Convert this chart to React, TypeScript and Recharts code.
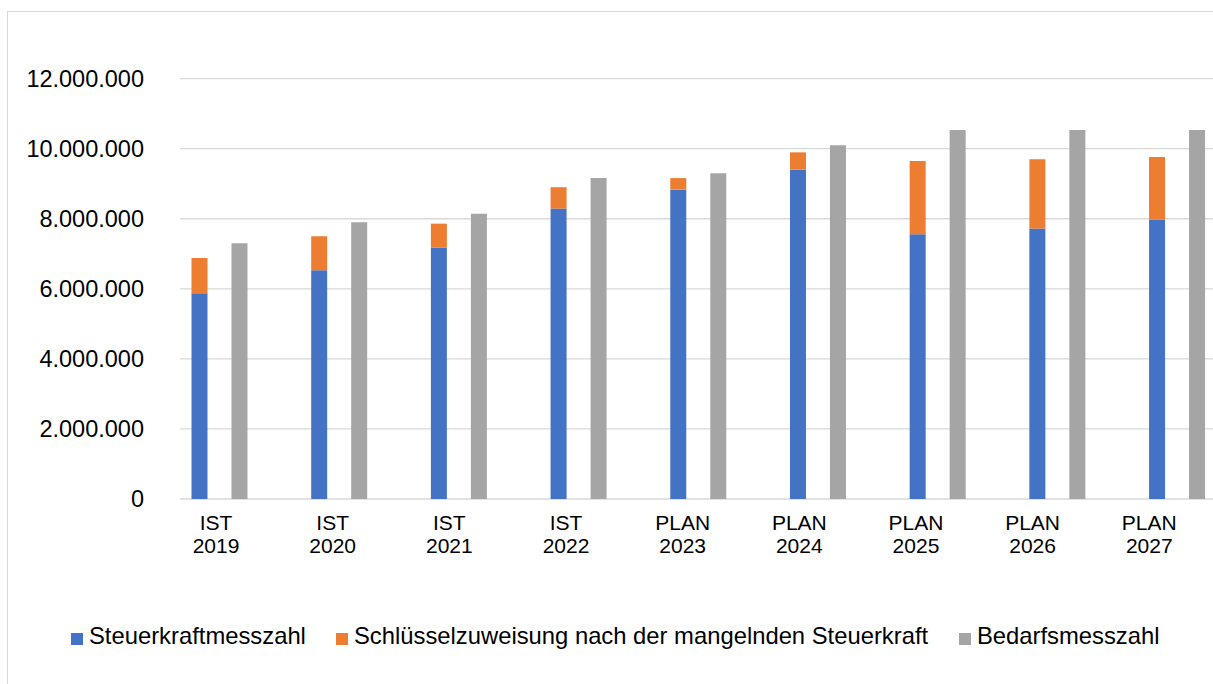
import React from 'react'
import { BarChart, Bar, XAxis, YAxis, CartesianGrid } from 'recharts'

const categories = ['IST 2019', 'IST 2020', 'IST 2021', 'IST 2022', 'PLAN 2023', 'PLAN 2024', 'PLAN 2025', 'PLAN 2026', 'PLAN 2027']
const steuerkraft = [5870000, 6530000, 7180000, 8290000, 8830000, 9400000, 7560000, 7720000, 7970000]
const schluessel = [1010000, 970000, 680000, 610000, 330000, 495000, 2090000, 1975000, 1795000]
const bedarf = [7300000, 7900000, 8140000, 9160000, 9300000, 10100000, 10530000, 10530000, 10530000]
const yTicks = [0, 2000000, 4000000, 6000000, 8000000, 10000000, 12000000]

const SERIES = [
  { key: 'steuerkraft', label: 'Steuerkraftmesszahl', color: '#4472C4', left: 71 },
  { key: 'schluessel', label: 'Schlüsselzuweisung nach der mangelnden Steuerkraft', color: '#ED7D31', left: 336 },
  { key: 'bedarf', label: 'Bedarfsmesszahl', color: '#A5A5A5', left: 959 },
]

const data = categories.map((cat, i) => ({
  cat,
  steuerkraft: steuerkraft[i],
  schluessel: schluessel[i],
  bedarf: bedarf[i],
}))

const FONT = '"Liberation Sans", Arial, sans-serif'

const fmt = (v: number) => String(v).replace(/\B(?=(\d{3})+(?!\d))/g, '.')

function CategoryTick({ x, y, payload }: any) {
  const [top, bottom] = String(payload.value).split(' ')
  return (
    <text x={x} y={y} textAnchor="middle" fontSize={21} fill="#000" fontFamily={FONT}>
      <tspan x={x} dy={30.5}>{top}</tspan>
      <tspan x={x} dy={23.4}>{bottom}</tspan>
    </text>
  )
}

export default function App() {
  return (
    <div style={{ position: 'fixed', left: 0, top: 0, width: 1213, height: 684, overflow: 'hidden', background: '#fff' }}>
      <div style={{ position: 'absolute', left: 7, top: 11, width: 1300, height: 800, border: '1px solid #d9d9d9' }} />
      <div style={{ position: 'absolute', left: 0, top: 0 }}>
        <BarChart
          width={1260}
          height={684}
          data={data}
          margin={{ top: 78.6, right: 0, bottom: 0, left: 0 }}
          barGap={24}
        >
          <CartesianGrid vertical={false} stroke="#d9d9d9" strokeWidth={1.3} />
          <XAxis xAxisId="bars" dataKey="cat" hide height={0} padding={{ left: -20.5, right: 23.25 }} />
          <XAxis
            xAxisId="lbl"
            dataKey="cat"
            height={185}
            axisLine={false}
            tickLine={false}
            tickSize={0}
            tickMargin={0}
            interval={0}
            padding={{ left: -22.3, right: 52.4 }}
            tick={<CategoryTick />}
          />
          <YAxis
            width={180}
            domain={[0, 12000000]}
            ticks={yTicks}
            axisLine={false}
            tickLine={false}
            tickMargin={30}
            tickFormatter={fmt}
            tick={{ fontSize: 23.5, fill: '#000', fontFamily: FONT }}
          />
          <Bar xAxisId="bars" dataKey="steuerkraft" stackId="a" fill="#4472C4" barSize={16} isAnimationActive={false} />
          <Bar xAxisId="bars" dataKey="schluessel" stackId="a" fill="#ED7D31" barSize={16} isAnimationActive={false} />
          <Bar xAxisId="bars" dataKey="bedarf" stackId="b" fill="#A5A5A5" barSize={16} isAnimationActive={false} />
        </BarChart>
      </div>
      {SERIES.map((s) => (
        <div
          key={s.key}
          style={{
            position: 'absolute',
            left: s.left,
            top: 622.4,
            display: 'flex',
            alignItems: 'center',
            fontFamily: FONT,
            fontSize: 23.8,
            color: '#000',
            whiteSpace: 'nowrap',
          }}
        >
          <span style={{ display: 'inline-block', width: 12, height: 12, background: s.color, marginRight: 6, marginTop: 5 }} />
          <span>{s.label}</span>
        </div>
      ))}
    </div>
  )
}
